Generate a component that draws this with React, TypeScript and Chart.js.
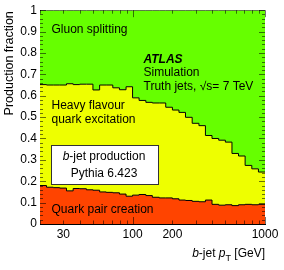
import React, { useEffect, useRef } from "react";
import { Chart, registerables } from "chart.js";

Chart.register(...registerables);

// b-jet pT bin edges [GeV] (log-spaced)
const binEdges = [20, 22.4, 25.2, 28.2, 31.7, 35.6, 39.9, 44.8, 50.2, 56.4, 63.2, 70.9, 79.6, 89.3, 100, 112, 126, 141, 159, 178, 200, 224, 251, 282, 317, 355, 398, 447, 502, 563, 631, 708, 795, 892, 1000];

// production fractions per bin
const quarkPairCreation = [0.180, 0.172, 0.170, 0.168, 0.155, 0.166, 0.165, 0.160, 0.158, 0.150, 0.148, 0.146, 0.140, 0.130, 0.135, 0.138, 0.133, 0.125, 0.122, 0.122, 0.118, 0.112, 0.110, 0.106, 0.104, 0.112, 0.092, 0.088, 0.090, 0.086, 0.090, 0.092, 0.090, 0.092];
const heavyFlavourExcitation = [0.472, 0.478, 0.480, 0.482, 0.501, 0.486, 0.489, 0.494, 0.469, 0.500, 0.502, 0.491, 0.488, 0.512, 0.455, 0.440, 0.436, 0.441, 0.444, 0.424, 0.415, 0.410, 0.389, 0.365, 0.356, 0.302, 0.308, 0.304, 0.293, 0.244, 0.228, 0.182, 0.168, 0.151];
const gluonSplitting = [0.348, 0.350, 0.350, 0.350, 0.344, 0.348, 0.346, 0.346, 0.373, 0.350, 0.350, 0.363, 0.372, 0.358, 0.410, 0.422, 0.431, 0.434, 0.434, 0.454, 0.467, 0.478, 0.501, 0.529, 0.540, 0.586, 0.600, 0.608, 0.617, 0.670, 0.682, 0.726, 0.742, 0.757];

const xTickLabels = [30, 100, 200, 1000];
const yTickLabels = [0, 0.1, 0.2, 0.3, 0.4, 0.5, 0.6, 0.7, 0.8, 0.9, 1];

const FONT = '"Liberation Sans", Arial, Helvetica, sans-serif';

function toSteps(vals: number[]) {
  return binEdges.map((x, i) => ({ x, y: vals[Math.min(i, vals.length - 1)] }));
}

function drawSegments(ctx: CanvasRenderingContext2D, segs: { t: string; font: string; dy?: number }[], startX: number, y: number) {
  let cx = startX;
  for (const s of segs) {
    ctx.font = s.font;
    ctx.fillText(s.t, cx, y + (s.dy || 0));
    cx += ctx.measureText(s.t).width;
  }
}
function segWidth(ctx: CanvasRenderingContext2D, segs: { t: string; font: string }[]) {
  let w = 0;
  for (const s of segs) {
    ctx.font = s.font;
    w += ctx.measureText(s.t).width;
  }
  return w;
}

const decorPlugin = {
  id: "decor",
  afterDraw(chart: any) {
    const { ctx, chartArea, scales } = chart;
    const { left, right, top, bottom } = chartArea;
    const xs = scales.x;
    const ys = scales.y;
    ctx.save();
    // tick marks inside the frame
    ctx.strokeStyle = "rgba(0,0,0,0.55)";
    ctx.lineWidth = 1;
    ctx.beginPath();
    for (let i = 0; i <= 50; i++) {
      const py = Math.round(ys.getPixelForValue(i * 0.02)) + 0.5;
      const len = i % 5 === 0 ? 6 : 3;
      ctx.moveTo(left, py);
      ctx.lineTo(left + len, py);
      ctx.moveTo(right, py);
      ctx.lineTo(right - len, py);
    }
    for (let e = 1; e <= 3; e++) {
      for (let m = 1; m <= 9; m++) {
        const v = m * Math.pow(10, e);
        if (v < 20 || v > 1000) continue;
        const px = Math.round(xs.getPixelForValue(v)) + 0.5;
        const len = m === 1 ? 7 : 3.5;
        ctx.moveTo(px, bottom);
        ctx.lineTo(px, bottom - len);
        ctx.moveTo(px, top);
        ctx.lineTo(px, top + len);
      }
    }
    ctx.stroke();

    ctx.fillStyle = "#000";
    ctx.textBaseline = "middle";
    ctx.textAlign = "left";
    const n = `12px ${FONT}`;
    const it = `italic 12px ${FONT}`;
    ctx.font = n;
    ctx.fillText("Gluon splitting", 51.5, 30);
    ctx.font = `italic bold 12px ${FONT}`;
    ctx.fillText("ATLAS", 143.5, 59.5);
    ctx.font = n;
    ctx.fillText("Simulation", 143.5, 73);
    ctx.fillText("Truth jets, \u221As= 7 TeV", 143.5, 86.5);
    ctx.fillText("Heavy flavour", 51.5, 105.5);
    ctx.fillText("quark excitation", 51.5, 120);
    ctx.fillText("Quark pair creation", 51.5, 210);

    // info box
    ctx.fillStyle = "#fff";
    ctx.fillRect(51.5, 145.5, 107, 39);
    ctx.strokeStyle = "#333";
    ctx.strokeRect(51.5, 145.5, 107, 39);
    ctx.fillStyle = "#000";
    const boxSegs = [{ t: "b", font: it }, { t: "-jet production", font: n }];
    drawSegments(ctx, boxSegs, 104 - segWidth(ctx, boxSegs) / 2, 157);
    ctx.font = n;
    ctx.textAlign = "center";
    ctx.fillText("Pythia 6.423", 104, 173.5);

    // y title
    ctx.save();
    ctx.translate(9.5, top + 1);
    ctx.rotate(-Math.PI / 2);
    ctx.textAlign = "right";
    ctx.textBaseline = "middle";
    ctx.font = `12.5px ${FONT}`;
    ctx.fillText("Production fraction", 0, 0);
    ctx.restore();

    // x title
    ctx.textAlign = "left";
    ctx.textBaseline = "alphabetic";
    const xSegs = [
      { t: "b", font: it },
      { t: "-jet ", font: n },
      { t: "p", font: it },
      { t: "T", font: `9px ${FONT}`, dy: 3.5 },
      { t: " [GeV]", font: n },
    ];
    drawSegments(ctx, xSegs, right - segWidth(ctx, xSegs), 257);
    ctx.restore();
  },
};

export default function App() {
  const ref = useRef<HTMLCanvasElement | null>(null);
  useEffect(() => {
    if (!ref.current) return;
    const common = {
      stepped: "before" as const,
      pointRadius: 0,
      borderColor: "#000",
      borderWidth: 1,
    };
    const chart = new Chart(ref.current, {
      type: "line",
      data: {
        datasets: [
          { ...common, label: "Quark pair creation", data: toSteps(quarkPairCreation), backgroundColor: "#ff4400", fill: "origin" },
          { ...common, label: "Heavy flavour quark excitation", data: toSteps(heavyFlavourExcitation), backgroundColor: "#eeff00", fill: "-1" },
          { ...common, label: "Gluon splitting", data: toSteps(gluonSplitting), backgroundColor: "#66ff00", fill: "-1" },
        ],
      },
      options: {
        responsive: false,
        animation: false,
        events: [],
        layout: { padding: { top: 9, right: 19, left: 0, bottom: 0 } },
        plugins: { legend: { display: false }, tooltip: { enabled: false } },
        scales: {
          x: {
            type: "logarithmic",
            min: 20,
            max: 1000,
            grid: { display: false, drawTicks: false },
            border: { display: true, color: "#000", width: 1 },
            afterFit: (s: any) => { s.height = 46; },
            ticks: {
              autoSkip: false,
              maxRotation: 0,
              padding: 3,
              color: "#000",
              font: { family: FONT, size: 12 },
              callback: (v: any) => {
                const val = Number(v);
                const hit = xTickLabels.find((t) => Math.abs(val - t) / t < 1e-6);
                return hit !== undefined ? String(hit) : "";
              },
            },
          },
          y: {
            stacked: true,
            min: 0,
            max: 1,
            grid: { display: false, drawTicks: false },
            border: { display: true, color: "#000", width: 1 },
            afterFit: (s: any) => { s.width = 40; },
            afterBuildTicks: (s: any) => { s.ticks = yTickLabels.map((v) => ({ value: v })); },
            ticks: {
              padding: 3,
              color: "#000",
              font: { family: FONT, size: 12 },
              callback: (v: any) => String(Number(Number(v).toFixed(1))),
            },
          },
        },
      },
      plugins: [decorPlugin],
    });
    return () => chart.destroy();
  }, []);
  return (
    <div style={{ position: "fixed", left: 0, top: 0, width: 284, height: 270, background: "#fff" }}>
      <canvas ref={ref} width={284} height={270} style={{ display: "block" }} />
    </div>
  );
}
